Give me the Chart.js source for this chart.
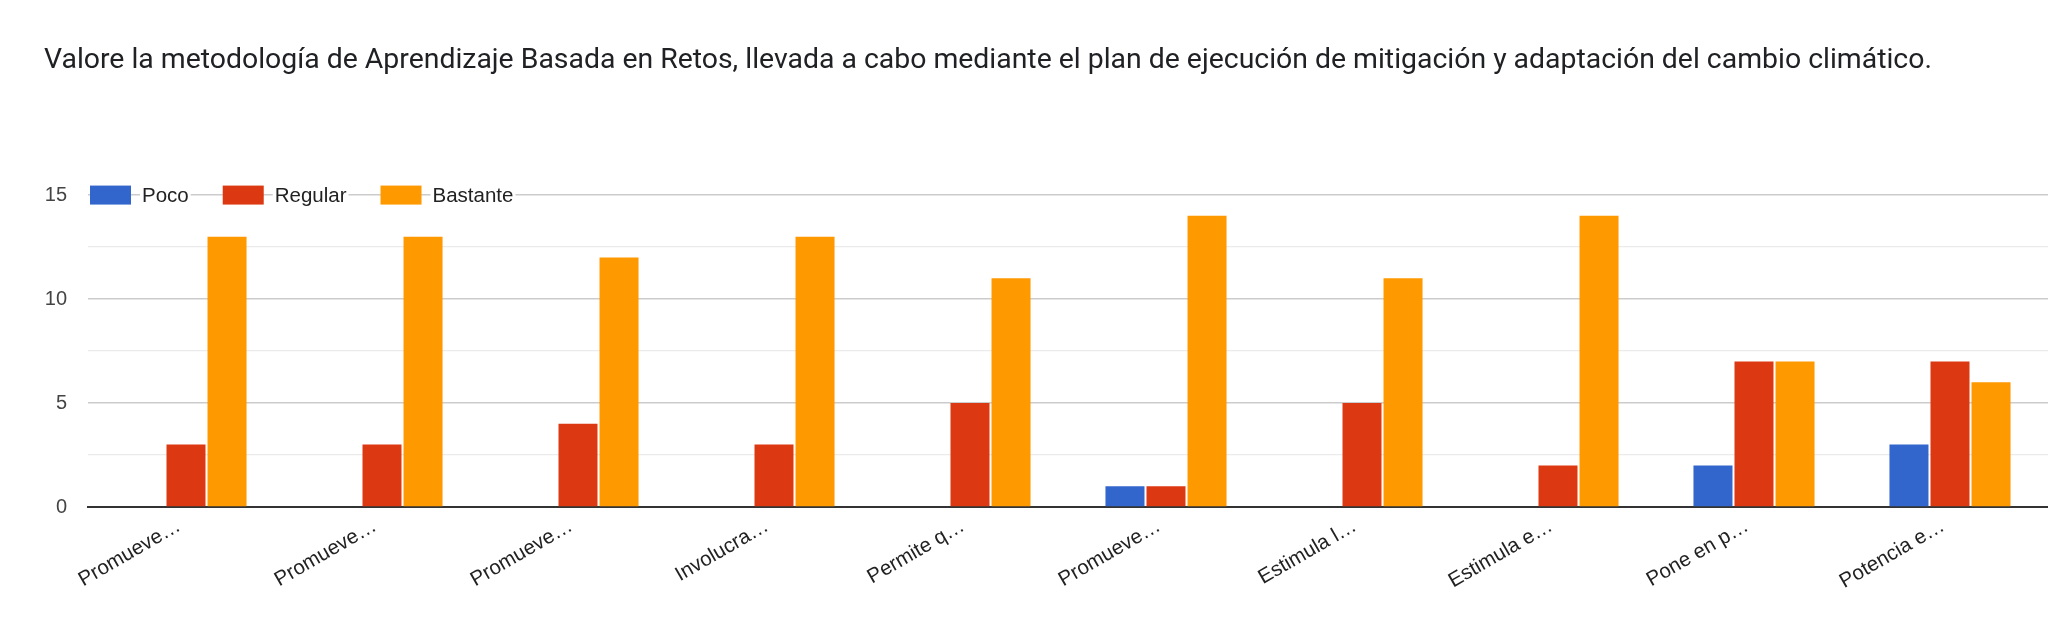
<!DOCTYPE html>
<html>
<head>
<meta charset="utf-8">
<script src="https://cdn.jsdelivr.net/npm/chart.js@4.4.1/dist/chart.umd.min.js"></script>
<style>
  html, body { margin: 0; padding: 0; background: #fff; }
  #wrap { width: 2048px; height: 638px; position: relative; }
</style>
</head>
<body>
<div id="wrap"><canvas id="chart"></canvas></div>
<script>
const titleText = 'Valore la metodología de Aprendizaje Basada en Retos, llevada a cabo mediante el plan de ejecución de mitigación y adaptación del cambio climático.';

const categories = ['Promueve…', 'Promueve…', 'Promueve…', 'Involucra…', 'Permite q…',
                    'Promueve…', 'Estimula l…', 'Estimula e…', 'Pone en p…', 'Potencia e…'];

const seriesNames = ['Poco', 'Regular', 'Bastante'];
const seriesColors = ['#3366cc', '#dc3912', '#ff9900'];

const pocoValues = [0, 0, 0, 0, 0, 1, 0, 0, 2, 3];
const regularValues = [3, 3, 4, 3, 5, 1, 5, 2, 7, 7];
const bastanteValues = [13, 13, 12, 13, 11, 14, 11, 14, 7, 6];

const yTicks = [0, 5, 10, 15];

const seriesValues = [pocoValues, regularValues, bastanteValues];

const axisFont = '"Liberation Sans", Arial, sans-serif';

// legend drawn over the top gridline, like the original
const topLegend = {
  id: 'topLegend',
  afterDatasetsDraw(chart) {
    const ctx = chart.ctx;
    const y = chart.scales.y.getPixelForValue(15);
    let x = chart.chartArea.left + 2;
    ctx.save();
    ctx.font = '20.5px ' + axisFont;
    ctx.textBaseline = 'middle';
    chart.data.datasets.forEach(ds => {
      ctx.fillStyle = ds.backgroundColor;
      ctx.fillRect(x, y - 9.5, 41, 19);
      x += 41 + 11;
      const w = ctx.measureText(ds.label).width;
      ctx.fillStyle = '#fff';
      ctx.fillRect(x - 2, y - 12, w + 4, 24);
      ctx.fillStyle = '#222';
      ctx.fillText(ds.label, x, y + 1);
      x += w + 34;
    });
    ctx.restore();
  }
};

new Chart(document.getElementById('chart'), {
  type: 'bar',
  data: {
    labels: categories,
    datasets: seriesNames.map((name, i) => ({
      label: name,
      data: seriesValues[i],
      backgroundColor: seriesColors[i],
      borderWidth: 0,
      categoryPercentage: 0.628,
      barPercentage: 0.951
    }))
  },
  options: {
    responsive: true,
    maintainAspectRatio: false,
    animation: false,
    layout: { padding: { left: 44, right: 0, top: 0, bottom: 0 } },
    plugins: {
      legend: { display: false },
      tooltip: { enabled: false },
      title: {
        display: true,
        text: titleText,
        align: 'start',
        color: '#202124',
        font: { family: 'Roboto', size: 28.4, weight: 'normal' },
        padding: { top: 44, bottom: 117 }
      }
    },
    scales: {
      x: {
        grid: { display: false, drawTicks: false },
        border: { display: true, color: '#333', width: 2 },
        ticks: {
          color: '#222',
          font: { family: axisFont, size: 20.5 },
          maxRotation: 30,
          minRotation: 30,
          padding: 7,
          labelOffset: -7,
          autoSkip: false
        },
        afterFit(scale) { scale.height = 131; }
      },
      y: {
        min: 0,
        max: 15,
        border: { display: false },
        grid: {
          drawTicks: false,
          color: c => c.tick.value === 0 ? 'rgba(0,0,0,0)' : (c.tick.value % 5 === 0 ? '#cccccc' : '#ebebeb'),
          lineWidth: c => c.tick.value % 5 === 0 ? 1.5 : 1.2
        },
        ticks: {
          stepSize: 2.5,
          color: '#444',
          padding: 21,
          font: { family: axisFont, size: 20 },
          callback: v => yTicks.includes(v) ? String(v) : ''
        },
        afterFit(scale) { scale.width = 44; }
      }
    }
  },
  plugins: [topLegend]
});
</script>
</body>
</html>
